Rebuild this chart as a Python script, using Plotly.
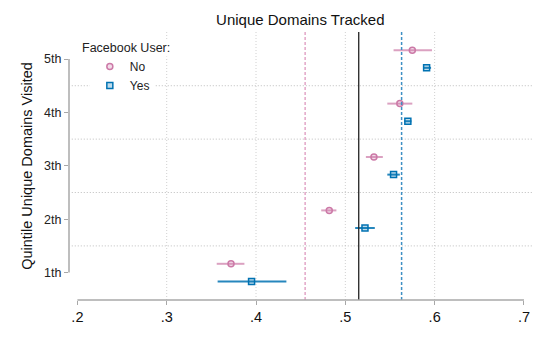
import plotly.graph_objects as go

# Datos
quintiles = [1, 2, 3, 4, 5]
quintile_labels = ["1th", "2th", "3th", "4th", "5th"]

no_mean = [0.372, 0.482, 0.532, 0.561, 0.575]
no_low = [0.356, 0.473, 0.523, 0.547, 0.554]
no_high = [0.387, 0.490, 0.542, 0.575, 0.597]

yes_mean = [0.395, 0.522, 0.554, 0.570, 0.591]
yes_low = [0.357, 0.511, 0.547, 0.566, 0.587]
yes_high = [0.434, 0.533, 0.561, 0.574, 0.596]

mean_no = 0.455
mean_all = 0.515
mean_yes = 0.563

x_ticks = [0.2, 0.3, 0.4, 0.5, 0.6, 0.7]
x_tick_labels = [".2", ".3", ".4", ".5", ".6", ".7"]
x_grid = [0.3, 0.4, 0.5, 0.6]
y_grid = [1.5, 2.5, 3.5, 4.5]

PINK = "#cc79a7"
BLUE = "#0072b2"
GRID = "#d0d0d0"
AXIS = "#a8a8a8"
FONT_FAMILY = "Liberation Sans"
OFFSET = 0.165

fig = go.Figure()

fig.add_trace(go.Scatter(
    x=no_mean,
    y=[q + OFFSET for q in quintiles],
    name="No",
    mode="markers",
    marker=dict(symbol="circle", size=6, color="rgba(204,121,167,0.25)",
                line=dict(color=PINK, width=1.5)),
    error_x=dict(type="data", symmetric=False,
                 array=[h - m for h, m in zip(no_high, no_mean)],
                 arrayminus=[m - l for m, l in zip(no_mean, no_low)],
                 color="rgba(204,121,167,0.7)", thickness=2, width=0),
))

fig.add_trace(go.Scatter(
    x=yes_mean,
    y=[q - OFFSET for q in quintiles],
    name="Yes",
    mode="markers",
    marker=dict(symbol="square", size=6, color="rgba(0,114,178,0.25)",
                line=dict(color=BLUE, width=1.5)),
    error_x=dict(type="data", symmetric=False,
                 array=[h - m for h, m in zip(yes_high, yes_mean)],
                 arrayminus=[m - l for m, l in zip(yes_mean, yes_low)],
                 color="rgba(0,114,178,0.85)", thickness=2, width=0),
))

# Cuadrícula punteada
for gx in x_grid:
    fig.add_shape(type="line", xref="x", yref="paper", x0=gx, x1=gx, y0=0, y1=1,
                  line=dict(color=GRID, width=1, dash="1px,2px"), layer="below")
for gy in y_grid:
    fig.add_shape(type="line", xref="paper", yref="y", x0=0.006, x1=1, y0=gy, y1=gy,
                  line=dict(color="#bdbdbd", width=1, dash="1px,2px"), layer="below")

# Líneas de referencia
fig.add_vline(x=mean_no, line=dict(color="#e2a6c7", width=1.5, dash="3px,2px"))
fig.add_vline(x=mean_all, line=dict(color="#222222", width=1.3))
fig.add_vline(x=mean_yes, line=dict(color="#3d8fc4", width=1.5, dash="3px,2px"))

# Ejes estilo Stata (solo entre ticks extremos)
fig.add_shape(type="line", xref="x", yref="paper", x0=0.2, x1=0.7, y0=0, y1=0,
              line=dict(color=AXIS, width=1.5))
fig.add_shape(type="line", xref="paper", yref="y", x0=0, x1=0, y0=1, y1=5,
              line=dict(color=AXIS, width=1.5))

fig.add_annotation(
    text="Facebook User:", xref="paper", yref="paper",
    x=0.024, y=0.94, xanchor="left", yanchor="middle", showarrow=False,
    font=dict(family=FONT_FAMILY, size=12.5, color="#222222"),
    bgcolor="white",
)

fig.update_layout(
    width=545, height=363,
    title=dict(text="Unique Domains Tracked", x=0.551, xanchor="center",
               y=0.945, yanchor="middle",
               font=dict(family=FONT_FAMILY, size=15, color="#111111")),
    font=dict(family=FONT_FAMILY, size=12.5, color="#222222"),
    plot_bgcolor="white", paper_bgcolor="white",
    margin=dict(l=69, r=13, t=32, b=63),
    showlegend=True,
    legend=dict(x=0.045, y=0.925, xanchor="left", yanchor="top",
                bgcolor="white", font=dict(size=12), itemwidth=30,
                tracegroupgap=0),
    xaxis=dict(
        range=[0.1906, 0.709], tickvals=x_ticks, ticktext=x_tick_labels,
        showgrid=False, zeroline=False, showline=False,
        ticks="outside", ticklen=4, tickcolor=AXIS,
        tickfont=dict(size=14.5, color="#111111"),
    ),
    yaxis=dict(
        range=[0.487, 5.506], tickvals=quintiles, ticktext=quintile_labels,
        showgrid=False, zeroline=False, showline=False,
        ticks="outside", ticklen=4, tickcolor=AXIS,
        tickfont=dict(size=12.5, color="#222222"),
        title=dict(text="Quintile Unique Domains Visited", standoff=8,
                   font=dict(size=14.5, color="#111111")),
    ),
)

fig.write_html("out.html", config={"displayModeBar": False},
               post_script="document.body.style.margin='0';")
